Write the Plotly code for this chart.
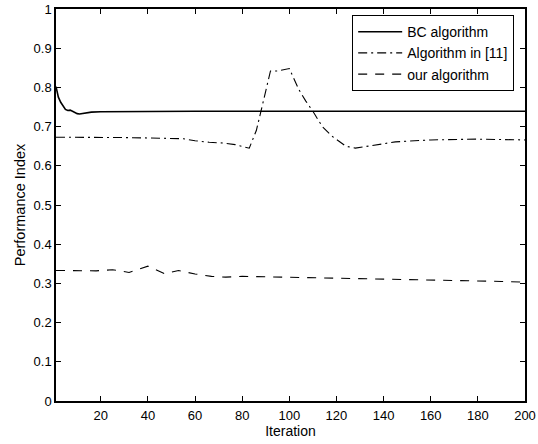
import plotly.graph_objects as go

# BC algorithm
bc_x = [1, 2, 3, 4, 5, 6, 7, 8, 9, 10, 11, 12, 13, 14, 16, 20, 40, 60, 80, 100, 120, 140, 160, 180, 200]
bc_y = [0.802, 0.775, 0.762, 0.752, 0.744, 0.741, 0.742, 0.739, 0.735, 0.733, 0.732, 0.733, 0.735, 0.736, 0.737, 0.738, 0.739, 0.739, 0.739, 0.739, 0.739, 0.739, 0.739, 0.739, 0.739]

# Algorithm in [11]
a11_x = [1, 10, 20, 30, 40, 50, 55, 60, 66, 72, 77, 83, 86, 88, 92, 95, 100, 104, 107, 110, 114, 118, 124, 128, 135, 145, 160, 180, 200]
a11_y = [0.673, 0.673, 0.673, 0.672, 0.671, 0.670, 0.669, 0.664, 0.660, 0.658, 0.654, 0.645, 0.690, 0.740, 0.842, 0.842, 0.848, 0.795, 0.765, 0.739, 0.700, 0.676, 0.650, 0.645, 0.652, 0.661, 0.666, 0.668, 0.666]

# our algorithm
our_x = [1, 10, 18, 25, 32, 40, 47, 53, 60, 67, 73, 80, 90, 100, 110, 120, 130, 140, 150, 160, 170, 180, 190, 200]
our_y = [0.333, 0.332, 0.332, 0.335, 0.328, 0.344, 0.325, 0.333, 0.324, 0.318, 0.316, 0.318, 0.317, 0.316, 0.315, 0.314, 0.312, 0.311, 0.310, 0.309, 0.308, 0.307, 0.305, 0.303]

x_ticks = [20, 40, 60, 80, 100, 120, 140, 160, 180, 200]
y_ticks = [0, 0.1, 0.2, 0.3, 0.4, 0.5, 0.6, 0.7, 0.8, 0.9, 1]
y_ticklabels = ["0", "0.1", "0.2", "0.3", "0.4", "0.5", "0.6", "0.7", "0.8", "0.9", "1"]

FONT = "Liberation Sans, Arial, Helvetica, sans-serif"

fig = go.Figure()
fig.add_trace(go.Scatter(x=bc_x, y=bc_y, mode="lines", name="BC algorithm",
                         line=dict(color="black", width=1.6)))
fig.add_trace(go.Scatter(x=a11_x, y=a11_y, mode="lines", name="Algorithm in [11]",
                         line=dict(color="black", width=1.1, dash="9px,4px,2px,4px")))
fig.add_trace(go.Scatter(x=our_x, y=our_y, mode="lines", name="our algorithm",
                         line=dict(color="black", width=1.1, dash="9px,8px")))

axis_common = dict(
    showgrid=False, zeroline=False, showline=True, linecolor="black", linewidth=1.5,
    mirror="ticks", ticks="inside", ticklen=5, tickwidth=1, tickcolor="black",
    tickfont=dict(family=FONT, size=13, color="black"), automargin=False,
)

fig.update_layout(
    width=538, height=444,
    margin=dict(l=56, r=13, t=9, b=43),
    paper_bgcolor="white", plot_bgcolor="white",
    font=dict(family=FONT, color="black"),
    showlegend=True,
    legend=dict(x=0.9765, y=0.985, xanchor="right", yanchor="top",
                bordercolor="black", borderwidth=1.2, bgcolor="white",
                font=dict(family=FONT, size=14, color="black"),
                tracegroupgap=0, itemwidth=44),
    xaxis=dict(range=[1, 200], tickvals=x_ticks, ticklabelstandoff=2,
               title=dict(text="Iteration", font=dict(family=FONT, size=14), standoff=0),
               **axis_common),
    yaxis=dict(range=[0, 1], tickvals=y_ticks, ticktext=y_ticklabels,
               title=dict(text="Performance Index", font=dict(family=FONT, size=14.5), standoff=4),
               **axis_common),
)

fig.write_html("out.html", config={"displayModeBar": False},
               post_script="document.body.style.margin='0';")
